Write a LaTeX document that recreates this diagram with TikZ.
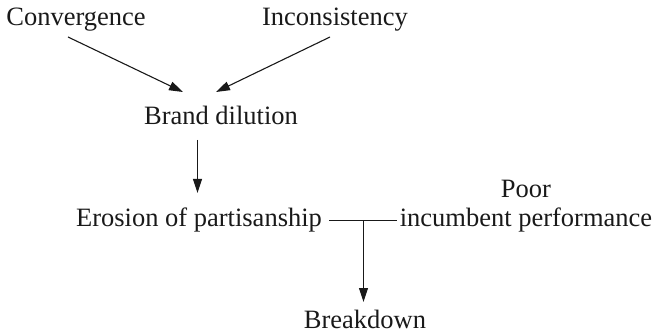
\documentclass[tikz,border=0pt]{standalone}
\usepackage{fontspec}
\setmainfont{Liberation Serif}
\usetikzlibrary{arrows.meta,calc}
\tikzset{
  lbl/.style={anchor=base, inner sep=0pt, font=\fontsize{26.5}{29}\selectfont, text=black!90},
  arr/.style={draw=black!90, line width=1.1pt, -{Triangle[length=14pt,width=9pt]}},
  ln/.style={draw=black!90, line width=1.1pt}
}
\begin{document}
\begin{tikzpicture}[x=1pt,y=-1pt]
\useasboundingbox (0,0) rectangle (668,336);
\node[lbl] (conv) at (76,26) {Convergence};
\node[lbl] (inc) at (335,26) {Inconsistency};
\node[lbl] (brand) at (221,125) {Brand dilution};
\node[lbl] (eros) at (199,227) {Erosion of partisanship};
\node[lbl, align=center] (poor) at (526,227) {Poor\\incumbent performance};
\node[lbl] (brk) at (365,328) {Breakdown};
\coordinate (j) at ($(eros.base)+(164.5,-6.5)$);
\draw[arr] ($(conv.base)+(-8,11)$) -- ($(brand.base)+(-38,-33)$);
\draw[arr] ($(inc.base)+(-5,11)$) -- ($(brand.base)+(-5,-33)$);
\draw[arr] ($(brand.base)+(-23.5,15)$) -- ($(eros.base)+(-1.5,-34)$);
\draw[ln] ($(eros.base)+(130,-6.5)$) -- (j) -- ($(eros.base)+(198,-6.5)$);
\draw[arr] (j) -- ($(brk.base)+(-1.5,-26)$);
\end{tikzpicture}
\end{document}
